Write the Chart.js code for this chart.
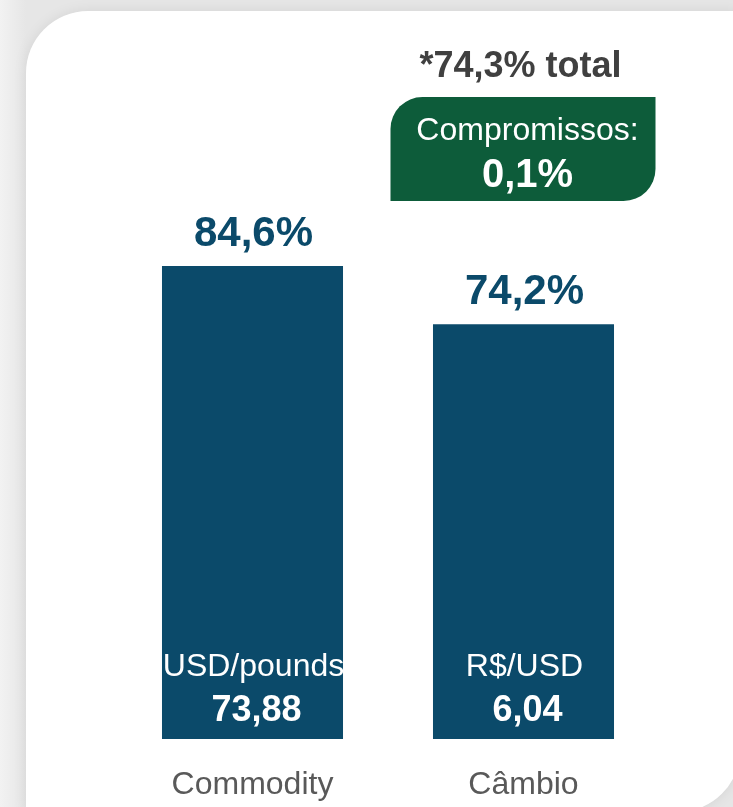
<!DOCTYPE html>
<html lang="pt-BR">
<head>
<meta charset="utf-8">
<script src="https://cdn.jsdelivr.net/npm/chart.js@4"></script>
<style>
    html, body { margin: 0; padding: 0; }
    body {
        width: 733px; height: 807px; overflow: hidden; position: relative;
        background: linear-gradient(90deg, #f2f2f2 0px, #e6e6e6 26px);
    }
    .cartao {
        position: absolute; left: 26px; top: 11px; right: -7px; bottom: -5px;
        background: #fff;
        border-radius: 62px 0 62px 0;
        box-shadow: 0 0 14px rgba(0,0,0,0.08);
    }
    #grafico { position: absolute; left: 0; top: 0; }
</style>
</head>
<body>
<div class="cartao"></div>
<canvas id="grafico" width="733" height="840"></canvas>
<script>
// Dados do gráfico
const categorias = ['Commodity', 'Câmbio'];
const percentuais = [84.6, 74.2];
const unidades = ['USD/pounds', 'R$/USD'];
const cotacoes = ['73,88', '6,04'];
const totalTexto = '*74,3% total';
const compromissosTexto = ['Compromissos:', '0,1%'];

const AZUL = '#0b4a6a';
const VERDE = '#0d5c3a';
const FONTE = '"Liberation Sans", Arial, sans-serif';

function formatarPct(v) {
    return v.toFixed(1).replace('.', ',') + '%';
}

// Plugin para os rótulos das barras e a caixa de compromissos
const rotulosPlugin = {
    id: 'rotulos',
    afterDatasetsDraw(chart) {
        const ctx = chart.ctx;
        const barras = chart.getDatasetMeta(0).data;
        ctx.save();
        ctx.textAlign = 'center';
        ctx.textBaseline = 'alphabetic';
        barras.forEach((bar, i) => {
            // percentual acima da barra
            ctx.fillStyle = AZUL;
            ctx.font = 'bold 42px ' + FONTE;
            ctx.fillText(formatarPct(percentuais[i]), bar.x + 1, bar.y - 20);
            // unidade e cotação dentro da barra
            ctx.fillStyle = '#ffffff';
            ctx.font = '32px ' + FONTE;
            ctx.fillText(unidades[i], bar.x + 1, bar.base - 63);
            ctx.font = 'bold 36px ' + FONTE;
            ctx.fillText(cotacoes[i], bar.x + 4, bar.base - 18);
        });

        // caixa verde sobre a segunda barra
        const cx = barras[1].x;
        const x0 = cx - 133, x1 = cx + 132, y0 = 97, y1 = 201, r = 32;
        ctx.fillStyle = VERDE;
        ctx.beginPath();
        ctx.moveTo(x0 + r, y0);
        ctx.lineTo(x1, y0);
        ctx.lineTo(x1, y1 - r);
        ctx.arcTo(x1, y1, x1 - r, y1, r);
        ctx.lineTo(x0, y1);
        ctx.lineTo(x0, y0 + r);
        ctx.arcTo(x0, y0, x0 + r, y0, r);
        ctx.closePath();
        ctx.fill();

        ctx.fillStyle = '#ffffff';
        ctx.font = '32px ' + FONTE;
        ctx.fillText(compromissosTexto[0], cx + 4, 140);
        ctx.font = 'bold 40px ' + FONTE;
        ctx.fillText(compromissosTexto[1], cx + 4, 187);

        ctx.fillStyle = '#404040';
        ctx.font = 'bold 36px ' + FONTE;
        ctx.fillText(totalTexto, cx - 3, 77);
        ctx.restore();
    }
};

new Chart(document.getElementById('grafico'), {
    type: 'bar',
    data: {
        labels: categorias,
        datasets: [{
            data: percentuais,
            backgroundColor: AZUL,
            borderWidth: 0,
            categoryPercentage: 1,
            barPercentage: 0.668
        }]
    },
    options: {
        responsive: false,
        animation: false,
        layout: { padding: { left: 117, right: 74, top: 180, bottom: 8.6 } },
        plugins: { legend: { display: false }, tooltip: { enabled: false } },
        scales: {
            x: {
                grid: { display: false, drawTicks: false },
                border: { display: false },
                ticks: {
                    color: '#595959',
                    padding: 27,
                    font: { family: FONTE, size: 32 }
                }
            },
            y: {
                display: false,
                min: 0,
                max: 100
            }
        }
    },
    plugins: [rotulosPlugin]
});
</script>
</body>
</html>
